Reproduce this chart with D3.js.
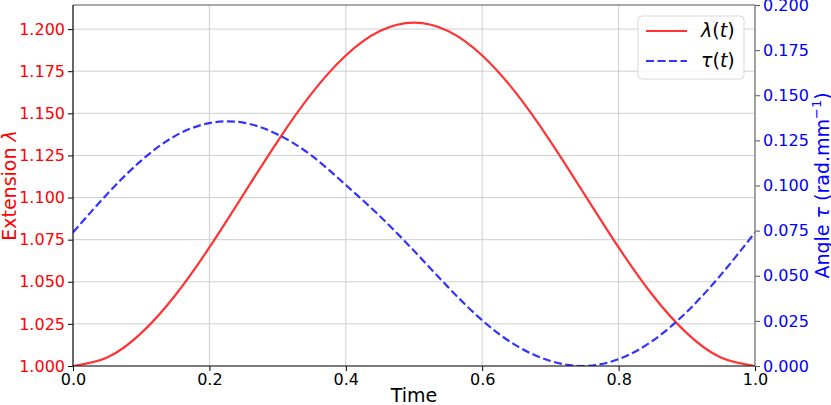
<!DOCTYPE html>
<html><head><meta charset="utf-8">
<script src="https://cdn.jsdelivr.net/npm/d3@7"></script>
<style>body{margin:0;background:#fff}svg{display:block}</style>
</head><body>
<svg id="c" width="831" height="405"></svg>
<script>
const times = [0,0.05,0.1,0.15,0.2,0.25,0.3,0.35,0.4,0.45,0.5,0.55,0.6,0.65,0.7,0.75,0.8,0.85,0.9,0.95,1.0];
const lambdaVals = [1.0000,1.0050,1.0195,1.0420,1.0704,1.1019,1.1334,1.1618,1.1843,1.1988,1.2038,1.1988,1.1843,1.1618,1.1334,1.1019,1.0704,1.0420,1.0195,1.0050,1.0000];
const tauVals = [0.0740,0.0952,0.1138,0.1275,0.1346,0.1348,0.1283,0.1165,0.1003,0.0830,0.0638,0.0437,0.0253,0.0113,0.0028,0.0000,0.0038,0.0140,0.0300,0.0505,0.0740];
const xTicks = [0,0.2,0.4,0.6,0.8,1.0];
const leftTicks = [1.000,1.025,1.050,1.075,1.100,1.125,1.150,1.175,1.200];
const rightTicks = [0,0.025,0.05,0.075,0.1,0.125,0.15,0.175,0.2];

const L=73,R=755,T=5,B=366;
const svg=d3.select("#c");
const font="DejaVu Sans";
const x=d3.scaleLinear().domain([0,1]).range([L,R]);
const yL=d3.scaleLinear().domain([1.0,1.2143]).range([B,T]);
const yR=d3.scaleLinear().domain([0,0.2]).range([B,T]);

// grid
const g=svg.append("g");
g.selectAll(".vg").data(xTicks).join("line")
 .attr("x1",d=>x(d)).attr("x2",d=>x(d)).attr("y1",T).attr("y2",B)
 .attr("stroke","#cfcfcf").attr("stroke-width",1);
g.selectAll(".hg").data(leftTicks).join("line")
 .attr("x1",L).attr("x2",R).attr("y1",d=>yL(d)).attr("y2",d=>yL(d))
 .attr("stroke","#cfcfcf").attr("stroke-width",1);

const pts=times.map((t,i)=>({t,l:lambdaVals[i],a:tauVals[i]}));
svg.append("clipPath").attr("id","pc").append("rect").attr("x",L).attr("y",T-2).attr("width",R-L).attr("height",B-T+2);
svg.append("path").datum(pts).attr("clip-path","url(#pc)")
 .attr("d",d3.line().x(d=>x(d.t)).y(d=>yL(d.l)).curve(d3.curveNatural))
 .attr("fill","none").attr("stroke","#ff3333").attr("stroke-width",2.2);
svg.append("path").datum(pts).attr("clip-path","url(#pc)")
 .attr("d",d3.line().x(d=>x(d.t)).y(d=>yR(d.a)).curve(d3.curveNatural))
 .attr("fill","none").attr("stroke","#3333ff").attr("stroke-width",2.2).attr("stroke-dasharray","8,3.5");

// axes
const ax=svg.append("g").attr("transform",`translate(0,${B})`).call(d3.axisBottom(x).tickValues(xTicks).tickFormat(d3.format(".1f")).tickSize(5).tickPadding(3));
ax.select(".domain").remove();
ax.selectAll("text").attr("font-family",font).attr("font-size",16).attr("fill","#000");
ax.selectAll("line").attr("stroke","#000");

const al=svg.append("g").attr("transform",`translate(${L},0)`).call(d3.axisLeft(yL).tickValues(leftTicks).tickFormat(d3.format(".3f")).tickSize(5).tickPadding(3));
al.select(".domain").remove();
al.selectAll("text").attr("font-family",font).attr("font-size",16).attr("fill","#ff0000");
al.selectAll("line").attr("stroke","#000");

const ar=svg.append("g").attr("transform",`translate(${R},0)`).call(d3.axisRight(yR).tickValues(rightTicks).tickFormat(d3.format(".3f")).tickSize(5).tickPadding(3));
ar.select(".domain").remove();
ar.selectAll("text").attr("font-family",font).attr("font-size",16).attr("fill","#0000ff");
ar.selectAll("line").attr("stroke","#555");

// spines
svg.append("line").attr("x1",L).attr("x2",R).attr("y1",T).attr("y2",T).attr("stroke","#555").attr("stroke-width",1.2);
svg.append("line").attr("x1",R).attr("x2",R).attr("y1",T).attr("y2",B).attr("stroke","#777").attr("stroke-width",1.2);
svg.append("line").attr("x1",L).attr("x2",L).attr("y1",T).attr("y2",B).attr("stroke","#111").attr("stroke-width",1.2);
svg.append("line").attr("x1",L).attr("x2",R).attr("y1",B).attr("y2",B).attr("stroke","#111").attr("stroke-width",1.2);

// labels
svg.append("text").attr("x",(L+R)/2).attr("y",402).attr("text-anchor","middle")
 .attr("font-family",font).attr("font-size",19).attr("fill","#000").text("Time");
const tl=svg.append("text").attr("transform",`translate(16,${(T+B)/2}) rotate(-90)`).attr("text-anchor","middle")
 .attr("font-family",font).attr("font-size",19).attr("fill","#ff0000");
tl.append("tspan").text("Extension ");
tl.append("tspan").attr("font-style","italic").text("λ");
const tr=svg.append("text").attr("transform",`translate(829,${(T+B)/2}) rotate(-90)`).attr("text-anchor","middle")
 .attr("font-family",font).attr("font-size",19).attr("fill","#0000ff");
tr.append("tspan").text("Angle ");
tr.append("tspan").attr("font-style","italic").text("τ");
tr.append("tspan").text(" (rad.mm");
tr.append("tspan").attr("font-size",13).attr("dy",-8).text("−1");
tr.append("tspan").attr("dy",8).text(")");

// legend
const lg=svg.append("g");
lg.append("rect").attr("x",638).attr("y",16).attr("width",106).attr("height",63).attr("rx",4)
 .attr("fill","rgba(255,255,255,0.85)").attr("stroke","#d8d8d8");
const items=[{c:"#ff3333",d:null,s:"λ",y:31},{c:"#3333ff",d:"8,3.5",s:"τ",y:61}];
items.forEach(it=>{
  lg.append("line").attr("x1",646).attr("x2",687).attr("y1",it.y).attr("y2",it.y)
   .attr("stroke",it.c).attr("stroke-width",2.2).attr("stroke-dasharray",it.d);
  const t=lg.append("text").attr("x",701).attr("y",it.y+6).attr("font-family",font).attr("font-size",19).attr("fill","#000");
  t.append("tspan").attr("font-style","italic").text(it.s);
  t.append("tspan").text("(");
  t.append("tspan").attr("font-style","italic").text("t");
  t.append("tspan").text(")");
});
</script>
</body></html>
